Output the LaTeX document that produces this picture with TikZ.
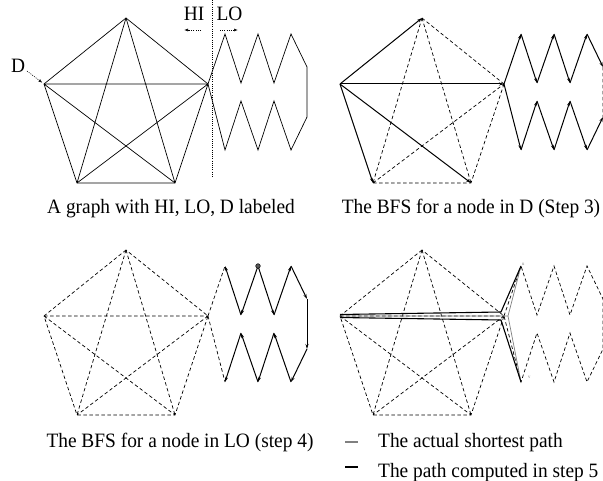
\documentclass[tikz,border=0pt]{standalone}
\usepackage{fontspec}
\setmainfont{Liberation Serif}[FakeStretch=0.95]
\usetikzlibrary{arrows.meta}
\newcommand\mkgraphcoords{%
 \coordinate (T) at (126,18);
 \coordinate (L) at (44,84);
 \coordinate (R) at (208,84);
 \coordinate (BL) at (77,183);
 \coordinate (BR) at (175,183);
 \coordinate (a1) at (225,34);
 \coordinate (b1) at (241,83);
 \coordinate (a2) at (258,34);
 \coordinate (b2) at (274,83);
 \coordinate (a3) at (291,34);
 \coordinate (c1) at (307,67);
 \coordinate (c2) at (307,117);
 \coordinate (d3) at (291,150);
 \coordinate (e2) at (274,101);
 \coordinate (d2) at (258,150);
 \coordinate (e1) at (241,101);
 \coordinate (d1) at (225,150);
}
\tikzset{
 edge/.style={line width=0.7pt},
 dedge/.style={line width=0.7pt, dash pattern=on 3.5pt off 2.5pt},
 tree/.style={line width=1pt, -{Stealth[length=5pt,width=3pt]}},
 dotarrow/.style={line width=0.6pt, dash pattern=on 1pt off 1.2pt, -{Latex[open,length=4pt,width=3pt]}},
 txt/.style={font=\fontsize{20.4}{23}\selectfont, anchor=base, inner sep=0pt},
 tinytxt/.style={font=\fontsize{5}{6}\selectfont, text=gray, inner sep=0pt},
}
\begin{document}
\begin{tikzpicture}[x=1pt,y=-1pt]
\useasboundingbox (0,0) rectangle (603,481);
% ---------- Panel 1 ----------
\begin{scope}[name prefix=p1-]
 \mkgraphcoords
 \draw[edge] (T)--(L)--(BL)--(BR)--(R)--cycle;
 \draw[edge] (T)--(BL) (T)--(BR) (L)--(R) (L)--(BR) (R)--(BL);
 \draw[edge] (R)--(a1)--(b1)--(a2)--(b2)--(a3)--(c1)--(c2)--(d3)--(e2)--(d2)--(e1)--(d1)--cycle;
 \coordinate (vtop) at (212,0);
 \coordinate (vbot) at (212,177);
 \draw[line width=0.6pt, dash pattern=on 1pt off 1.2pt] (vtop)--(vbot);
 \node[txt] (HI) at (194,21) {HI};
 \node[txt] (LO) at (229.5,21) {LO};
 \coordinate (hi1) at (201,30); \coordinate (hi2) at (184,30);
 \coordinate (lo1) at (220,30); \coordinate (lo2) at (238,30);
 \draw[dotarrow] (hi1)--(hi2);
 \draw[dotarrow] (lo1)--(lo2);
 \node[txt] (D) at (18,73) {D};
 \coordinate (dd1) at (27,71);
 \draw[dotarrow, shorten >=2pt] (dd1)--(L);
 \node[txt] (cap1) at (171,214) {A graph with HI, LO, D labeled};
\end{scope}
% ---------- Panel 2 ----------
\begin{scope}[shift={(296,0)}, name prefix=p2-]
 \mkgraphcoords
 \draw[dedge] (T)--(R) (T)--(BL) (T)--(BR) (BL)--(BR) (BL)--(R) (R)--(BR) (c1)--(c2);
 \draw[tree] (L)--(T);
 \draw[tree] (L)--(R);
 \draw[tree] (L)--(BL);
 \draw[tree] (L)--(BR);
 \draw[tree] (R)--(a1); \draw[tree] (a1)--(b1); \draw[tree] (b1)--(a2);
 \draw[tree] (a2)--(b2); \draw[tree] (b2)--(a3); \draw[tree] (a3)--(c1);
 \draw[tree] (R)--(d1); \draw[tree] (d1)--(e1); \draw[tree] (e1)--(d2);
 \draw[tree] (d2)--(e2); \draw[tree] (e2)--(d3); \draw[tree] (d3)--(c2);
 \node[txt] (cap2) at (175,214) {The BFS for a node in D (Step 3)};
\end{scope}
% ---------- Panel 3 ----------
\begin{scope}[shift={(0,232)}, name prefix=p3-]
 \mkgraphcoords
 \draw[dedge] (T)--(L)--(BL)--(BR)--(R)--cycle;
 \draw[dedge] (T)--(BL) (T)--(BR) (L)--(R) (L)--(BR) (R)--(BL);
 \draw[dedge] (R)--(a1) (R)--(d1);
 \draw[tree] (a2)--(b1); \draw[tree] (b1)--(a1);
 \draw[tree] (a2)--(b2); \draw[tree] (b2)--(a3); \draw[tree] (a3)--(c1);
 \draw[tree] (c1)--(c2); \draw[tree] (c2)--(d3); \draw[tree] (d3)--(e2);
 \draw[tree] (e2)--(d2); \draw[tree] (d2)--(e1); \draw[tree] (e1)--(d1);
 \fill[gray!70!black, draw=black, line width=0.5pt] (a2) circle (2.3pt);
 \node[txt] (cap3) at (180,215) {The BFS for a node in LO (step 4)};
\end{scope}
% ---------- Panel 4 ----------
\begin{scope}[shift={(296,232)}, name prefix=p4-]
 \mkgraphcoords
 \draw[dedge] (T)--(L)--(BL)--(BR)--(R)--cycle;
 \draw[dedge] (T)--(BL) (T)--(BR) (L)--(R) (L)--(BR) (R)--(BL);
 \draw[dedge] (R)--(a1)--(b1)--(a2)--(b2)--(a3)--(c1)--(c2)--(d3)--(e2)--(d2)--(e1)--(d1)--cycle;
 \coordinate (Lu) at (44,82.5);
 \coordinate (Ld) at (44,85.5);
 \coordinate (pu) at (205,80);
 \coordinate (pd) at (205,88);
 \coordinate (pm) at (212,84);
 \draw[gray, line width=0.7pt] (L)--(pm)--(a1) (pm)--(d1);
 \draw[black, line width=1.1pt, line join=round] (Lu)--(pu)--(a1);
 \draw[black, line width=1.1pt, line join=round] (Ld)--(pd)--(d1);
 \node[tinytxt, anchor=west] (u) at (226,32) {u};
 \node[tinytxt, anchor=west] (v) at (232,145) {v};
 \coordinate (g1) at (49,210); \coordinate (g2) at (62,210);
 \coordinate (k1) at (49,235); \coordinate (k2) at (62,235);
 \draw[gray, line width=1.2pt] (g1)--(g2);
 \draw[black, line width=1.5pt] (k1)--(k2);
 \node[txt, anchor=base west] (leg1) at (82,215) {The actual shortest path};
 \node[txt, anchor=base west] (leg2) at (82,245) {The path computed in step 5};
\end{scope}
\end{tikzpicture}
\end{document}
